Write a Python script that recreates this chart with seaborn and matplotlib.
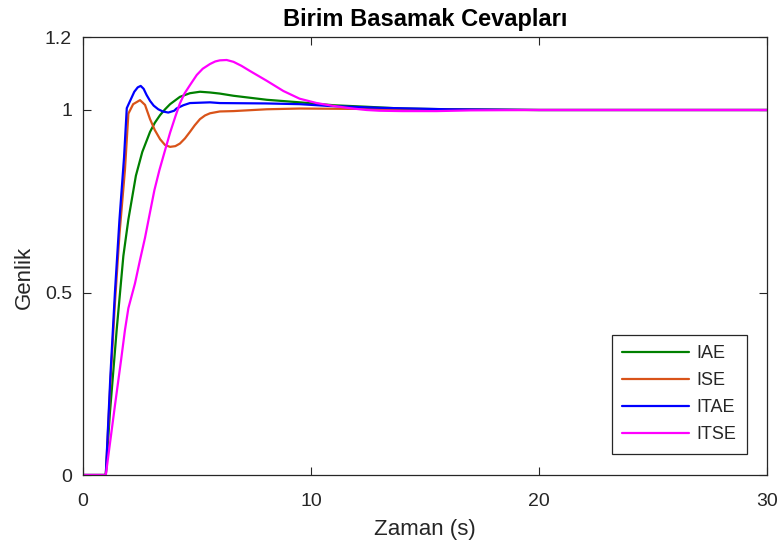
import matplotlib
matplotlib.use("Agg")
import matplotlib.pyplot as plt
import numpy as np
import pandas as pd
import seaborn as sns

# ---- data ----
series_names = ["IAE", "ISE", "ITAE", "ITSE"]
series_colors = ["#008000", "#D95319", "#0000FF", "#FF00FF"]

t_iae = [0, 1, 1.18, 1.48, 1.77, 1.99, 2.32, 2.6, 2.94, 3.15, 3.38, 3.6, 3.82, 4.25, 4.69, 5.13,
         5.57, 6.0, 6.6, 8.06, 9.5, 11.0, 12.4, 14.0, 16.0, 20.0, 30.0]
y_iae = [0, 0, 0.17, 0.40, 0.60, 0.70, 0.82, 0.885, 0.940, 0.965, 0.986, 1.002, 1.016, 1.036, 1.046, 1.050,
         1.048, 1.045, 1.039, 1.028, 1.021, 1.013, 1.009, 1.004, 1.002, 1.0, 1.0]

t_ise = [0, 1, 1.2, 1.4, 1.6, 1.84, 1.99, 2.2, 2.5, 2.72, 2.94, 3.15, 3.38, 3.6, 3.82, 4.05, 4.25, 4.47, 4.69,
         4.9, 5.13, 5.35, 5.57, 6.0, 6.6, 8.06, 9.5, 12.0, 15.0, 20.0, 30.0]
y_ise = [0, 0, 0.25, 0.47, 0.66, 0.836, 0.99, 1.016, 1.027, 1.014, 0.975, 0.945, 0.920, 0.904, 0.899, 0.901,
         0.908, 0.922, 0.940, 0.958, 0.975, 0.985, 0.991, 0.996, 0.997, 1.002, 1.004, 1.003, 1.001, 1.0, 1.0]

t_itae = [0, 1, 1.2, 1.4, 1.6, 1.8, 1.92, 2.0, 2.25, 2.4, 2.53, 2.66, 2.79, 2.94, 3.1, 3.3, 3.5, 3.74, 4.0, 4.1,
          4.4, 4.69, 5.13, 5.57, 6.0, 8.0, 9.5, 10.8, 13.0, 16.0, 20.0, 30.0]
y_itae = [0, 0, 0.27, 0.50, 0.70, 0.87, 1.005, 1.016, 1.050, 1.062, 1.066, 1.058, 1.041, 1.025, 1.012, 1.002,
          0.996, 0.993, 0.998, 1.004, 1.013, 1.019, 1.020, 1.021, 1.019, 1.018, 1.016, 1.011, 1.006, 1.002, 1.0, 1.0]

t_itse = [0, 1, 1.2, 1.4, 1.67, 1.84, 1.99, 2.28, 2.5, 2.72, 2.94, 3.13, 3.35, 3.6, 3.82, 4.05, 4.25,
          4.45, 4.69, 4.99, 5.25, 5.57, 5.8, 6.0, 6.3, 6.6, 6.95, 7.32, 8.06, 8.79, 9.5, 10.25, 11.0,
          11.7, 12.44, 13.0, 14.0, 15.5, 17.0, 20.0, 30.0]
y_itse = [0, 0, 0.095, 0.19, 0.315, 0.397, 0.457, 0.525, 0.589, 0.650, 0.720, 0.780, 0.835, 0.890, 0.938,
          0.982, 1.018, 1.045, 1.068, 1.096, 1.113, 1.126, 1.133, 1.136, 1.137, 1.132, 1.121, 1.107, 1.080,
          1.052, 1.031, 1.019, 1.011, 1.005, 1.000, 0.998, 0.997, 0.997, 0.999, 1.0, 1.0]

x_ticks = [0, 10, 20, 30]
y_ticks = [0, 0.5, 1, 1.2]
y_tick_labels = ["0", "0.5", "1", "1.2"]

title_text = "Birim Basamak Cevapları"
x_label = "Zaman (s)"
y_label = "Genlik"

# ---- build long-form table ----
all_t = [t_iae, t_ise, t_itae, t_itse]
all_y = [y_iae, y_ise, y_itae, y_itse]
df = pd.concat(
    [pd.DataFrame({"t": t, "y": y, "Kriter": n}) for t, y, n in zip(all_t, all_y, series_names)],
    ignore_index=True,
)

sns.set_style("white")
plt.rcParams["font.family"] = ["Liberation Sans", "DejaVu Sans"]

dark = "#262626"
fig = plt.figure(figsize=(7.8, 5.46), dpi=100)
ax = fig.add_axes([83 / 780, 1 - 475 / 546, 684 / 780, 438 / 546])

sns.lineplot(data=df, x="t", y="y", hue="Kriter", hue_order=series_names,
             palette=dict(zip(series_names, series_colors)),
             sort=False, estimator=None, linewidth=1.6, ax=ax)

ax.set_xlim(0, 30)
ax.set_ylim(0, 1.2)
ax.set_xticks(x_ticks)
ax.set_yticks(y_ticks)
ax.set_yticklabels(y_tick_labels)
ax.tick_params(direction="in", length=6, width=0.8, colors=dark, labelsize=14,
               top=True, right=True, bottom=True, left=True)
ax.tick_params(axis="x", pad=13)
ax.tick_params(axis="y", pad=8)
for s in ax.spines.values():
    s.set_visible(True)
    s.set_color(dark)
    s.set_linewidth(0.9)

ax.set_title(title_text, fontsize=17, fontweight="bold", color="black", pad=8)
ax.set_xlabel(x_label, fontsize=16, color=dark)
ax.set_ylabel(y_label, fontsize=16, color=dark)
ax.yaxis.set_label_coords(-0.07, 0.45)
ax.xaxis.set_label_coords(0.5, -0.1)

leg = ax.legend(loc="lower right", bbox_to_anchor=(0.971, 0.048), borderaxespad=0,
                fontsize=13, frameon=True, fancybox=False, framealpha=1,
                handlelength=3.7, handletextpad=0.4, labelspacing=0.55,
                borderpad=0.6, title=None)
leg.get_frame().set_edgecolor(dark)
leg.get_frame().set_linewidth(0.9)

fig.savefig("out.png", dpi=100)
